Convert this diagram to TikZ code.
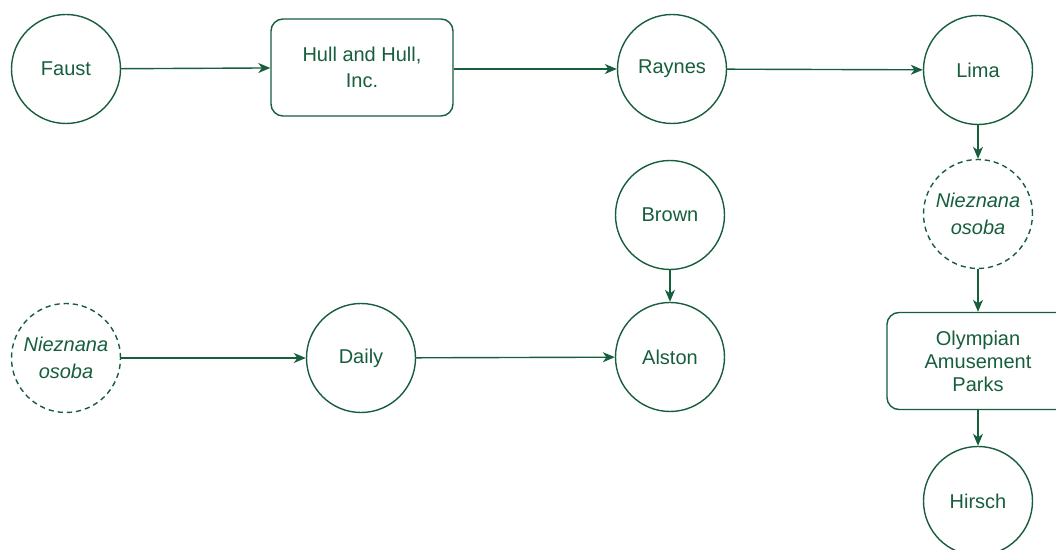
\documentclass[tikz,border=0pt]{standalone}
\usepackage{fontspec}
\setmainfont{Liberation Sans}
\usepackage{tikz}
\usetikzlibrary{arrows.meta}
\definecolor{dgreen}{RGB}{22,94,60}
\tikzset{
  osoba/.style={circle,draw=dgreen,line width=.7pt,minimum size=54.5pt,inner sep=0pt,align=center}, % bekannte Person
  nieznana/.style={osoba,dashed,dash pattern=on 2.6pt off 2pt,font=\itshape}, % unbekannte Person
  firma/.style={rectangle,rounded corners=6pt,draw=dgreen,line width=.7pt,minimum width=91pt,minimum height=48.5pt,inner sep=0pt,align=center}, % Firmen
  Pfeil/.style={draw=dgreen,line width=.7pt,-{Stealth[length=6pt,width=5pt,inset=1.8pt]}}
}
\begin{document}
\begin{tikzpicture}[x=.5pt,y=-.5pt,
font=\fontsize{10pt}{11.5pt}\selectfont,
text=dgreen
]
\useasboundingbox (0,0) rectangle (1056,550);

%Knoten
\node[osoba] (Faust) at (66,69) {Faust};
\node[firma] (Hull) at (362,67.5) {Hull and Hull,\\[1.8pt] Inc.};
\node[osoba] (Raynes) at (672,69) {Raynes};
\node[osoba] (Lima) at (978,70) {Lima};
\node[nieznana] (N1) at (978,214) {Nieznana\\[1.8pt] osoba};
\node[firma] (Olympian) at (978,361) {Olympian\\ Amusement\\ Parks};
\node[osoba] (Hirsch) at (978,501) {Hirsch};

\node[osoba] (Brown) at (670,215) {Brown};
\node[osoba] (Alston) at (670,357) {Alston};
\node[osoba] (Daily) at (361,358) {Daily};
\node[nieznana] (N2) at (66,358) {Nieznana\\[1.8pt] osoba};

%Pfeile
\draw[Pfeil] (Faust) -- (Hull);
\draw[Pfeil] (Hull.east |- Raynes) -- (Raynes);
\draw[Pfeil] (Raynes) -- (Lima);
\draw[Pfeil] (Lima) -- (N1);
\draw[Pfeil] (N1) -- (Olympian);
\draw[Pfeil] (Olympian) -- (Hirsch);

\draw[Pfeil] (Brown) -- (Alston);
\draw[Pfeil] (N2) -- (Daily);
\draw[Pfeil] (Daily) -- (Alston);

\end{tikzpicture}
\end{document}
